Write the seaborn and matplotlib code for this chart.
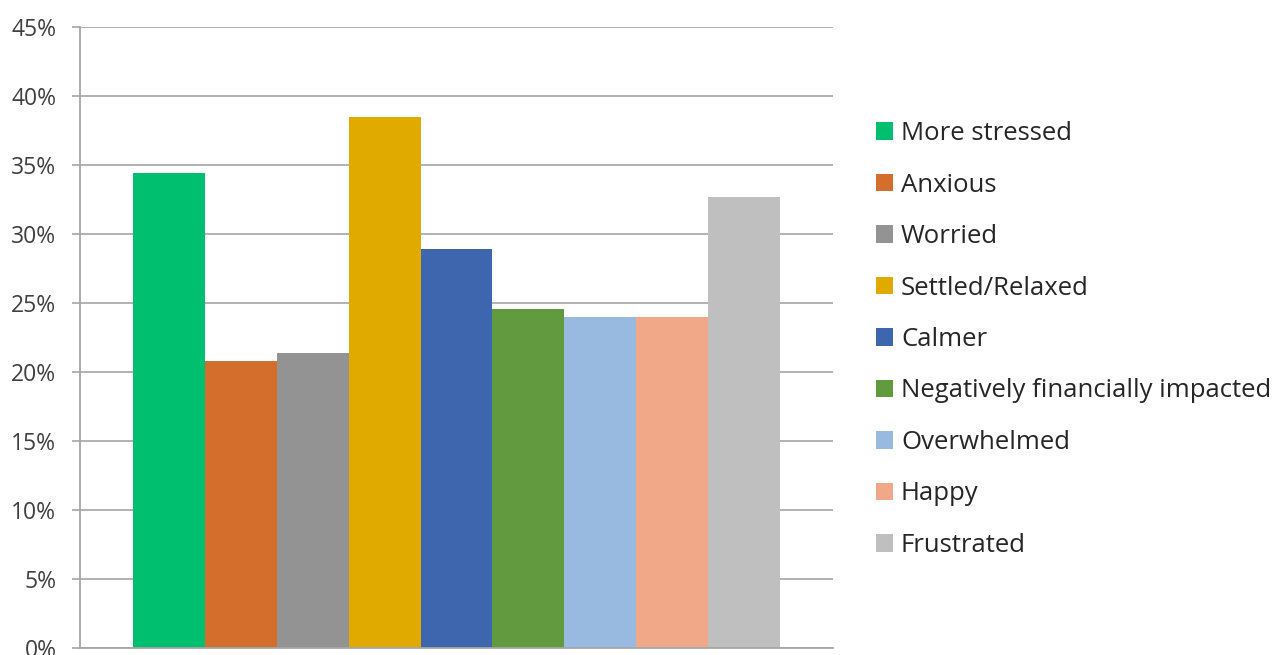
import matplotlib
matplotlib.use("Agg")
import matplotlib.pyplot as plt
import seaborn as sns
from matplotlib.ticker import PercentFormatter, MultipleLocator
from matplotlib.patches import Patch

# data (percent of respondents)
feelings = ["More stressed", "Anxious", "Worried", "Settled/Relaxed", "Calmer",
            "Negatively financially impacted", "Overwhelmed", "Happy", "Frustrated"]
shares = [34.4, 20.8, 21.4, 38.5, 28.9, 24.6, 24.0, 24.0, 32.7]
colors = ["#00BF6F", "#D36E2C", "#939393", "#E1AA00", "#3D66AE",
          "#629A3F", "#99BAE0", "#F0A889", "#BFBFBF"]

sns.set_style("white")
plt.rcParams["font.family"] = ["Open Sans", "DejaVu Sans"]

fig = plt.figure(figsize=(12.72, 6.55), dpi=100)
ax = fig.add_axes([80 / 1272, 7 / 655, (833 - 80) / 1272, (648 - 27) / 655])

sns.barplot(x=feelings, y=shares, hue=feelings, palette=colors, width=1,
            saturation=1, legend=False, ax=ax, linewidth=0)

ax.set_ylim(0, 45)
ax.set_xlim(-0.5 - 0.737, len(feelings) - 0.5 + 0.737)
ax.yaxis.set_major_locator(MultipleLocator(5))
ax.yaxis.set_major_formatter(PercentFormatter(xmax=100, decimals=0))
ax.set_xticks([])
ax.set_xlabel("")
ax.set_ylabel("")

ax.set_axisbelow(True)
ax.grid(axis="y", color="#ADADAD", linewidth=1.3)
for s in ["top", "right"]:
    ax.spines[s].set_visible(False)
ax.spines["left"].set_color("#A6A6A6")
ax.spines["left"].set_linewidth(1.3)
ax.spines["bottom"].set_color("#A6A6A6")
ax.spines["bottom"].set_linewidth(1.3)
ax.tick_params(axis="y", left=True, length=6, width=1.3, color="#ADADAD",
               labelsize=16.5, labelcolor="#404040", pad=11)

handles = [Patch(facecolor=c, edgecolor="none") for c in colors]
fig.legend(handles, feelings, loc="center left",
           bbox_to_anchor=(876 / 1272, 1 - 339.5 / 655),
           frameon=False, fontsize=18.5, borderpad=0, borderaxespad=0,
           handlelength=0.66, handleheight=0.66, handletextpad=0.31,
           labelspacing=1.03, labelcolor="#262626")

fig.savefig("out.png", dpi=100)
